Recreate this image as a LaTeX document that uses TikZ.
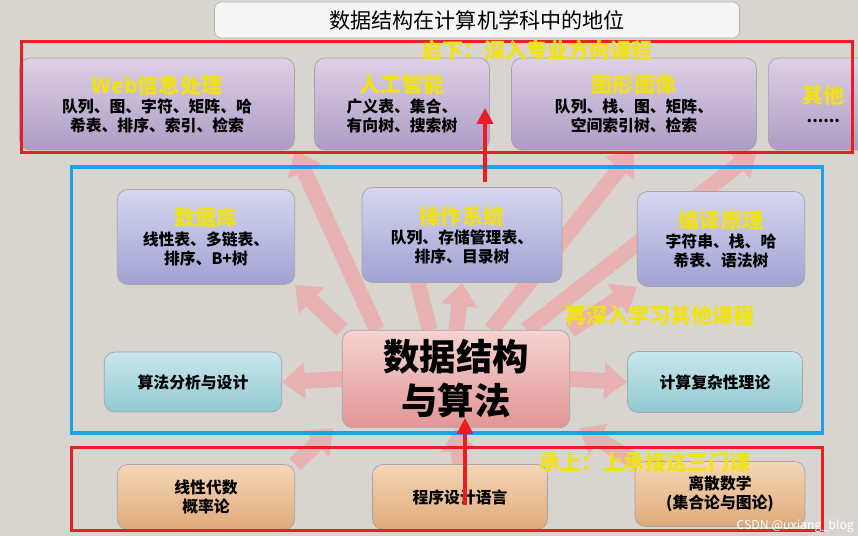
\documentclass[tikz,border=0pt]{standalone}
\usepackage{fontspec}
\setmainfont{Noto Sans CJK SC}
\usetikzlibrary{arrows.meta, positioning, backgrounds}
\definecolor{bgcol}{RGB}{216, 212, 208}
\definecolor{ytitle}{RGB}{240, 226, 20}
\definecolor{frred}{RGB}{232, 30, 36}
\definecolor{frblue}{RGB}{30, 160, 232}
\definecolor{arrowpink}{RGB}{232, 178, 178}
\tikzstyle{topbox} = [rectangle, rounded corners=6pt, draw=gray!70, top color={rgb,255:red,222;green,208;blue,230}, bottom color={rgb,255:red,172;green,156;blue,196}, align=center, font=\small\bfseries, inner sep=2pt]
\tikzstyle{midbox} = [rectangle, rounded corners=6pt, draw=gray!70, top color={rgb,255:red,214;green,214;blue,240}, bottom color={rgb,255:red,160;green,162;blue,210}, align=center, font=\small\bfseries, inner sep=2pt]
\tikzstyle{sidebox} = [rectangle, rounded corners=6pt, draw=gray!70, top color={rgb,255:red,200;green,232;blue,236}, bottom color={rgb,255:red,146;green,200;blue,210}, align=center, font=\small\bfseries]
\tikzstyle{basebox} = [rectangle, rounded corners=6pt, draw=gray!70, top color={rgb,255:red,244;green,214;blue,182}, bottom color={rgb,255:red,224;green,170;blue,122}, align=center, font=\small\bfseries]
\tikzstyle{frame} = [draw, line width=2pt]
\tikzstyle{note} = [text=ytitle, font=\large\bfseries]
\tikzstyle{bigarrow} = [draw=arrowpink, line width=9pt, -{Triangle[width=20pt,length=13pt]}]
\tikzstyle{redarrow} = [draw=frred, line width=2pt, -{Triangle[width=9pt,length=9pt]}]
\newcommand{\ttl}[1]{{\color{ytitle}\large\bfseries #1}\\}

\begin{document}
\begin{tikzpicture}[x=0.02cm, y=-0.02cm]
    \useasboundingbox (0,0) rectangle (858,536);
    \begin{scope}[on background layer]
        \fill[bgcol] (0,0) rectangle (858,536);
    \end{scope}

    % Title
    \node[draw=gray!60, rounded corners=4pt, fill=gray!8, minimum width=10.5cm, minimum height=0.72cm, font=\large] (title) at (477,20) {数据结构在计算机学科中的地位};

    % Top row
    \node[topbox, minimum width=5.5cm, minimum height=1.84cm] (web) at (157,104) {\ttl{Web信息处理}队列、图、字符、矩阵、哈\\希表、排序、索引、检索};
    \node[topbox, minimum width=3.5cm, minimum height=1.84cm] (ai) at (402,104) {\ttl{人工智能}广义表、集合、\\有向树、搜索树};
    \node[topbox, minimum width=4.9cm, minimum height=1.84cm] (img) at (634,104) {\ttl{图形图像}队列、栈、图、矩阵、\\空间索引树、检索};
    \node[topbox, minimum width=2.2cm, minimum height=1.84cm, anchor=west] (other) at (768,104) {\ttl{其他}......};

    % Middle row
    \node[midbox, minimum width=3.55cm, minimum height=1.9cm] (db) at (206,237) {\ttl{数据库}线性表、多链表、\\排序、B+树};
    \node[midbox, minimum width=4cm, minimum height=1.9cm] (os) at (462,235) {\ttl{操作系统}队列、存储管理表、\\排序、目录树};
    \node[midbox, minimum width=3.35cm, minimum height=1.9cm] (comp) at (721,239) {\ttl{编译原理}字符串、栈、哈\\希表、语法树};

    % Centre row
    \node[sidebox, minimum width=3.55cm, minimum height=1.2cm] (algo) at (193,382) {算法分析与设计};
    \node[rectangle, rounded corners=6pt, draw=gray!70, top color={rgb,255:red,246;green,210;blue,210}, bottom color={rgb,255:red,226;green,150;blue,150}, minimum width=4.55cm, minimum height=1.95cm, align=center, font=\huge\bfseries] (ds) at (456,379) {数据结构\\与算法};
    \node[sidebox, minimum width=3.5cm, minimum height=1.22cm] (cplx) at (715,382) {计算复杂性理论};

    % Bottom row
    \node[basebox, minimum width=3.55cm, minimum height=1.3cm] (lin) at (206,497) {线性代数\\概率论};
    \node[basebox, minimum width=3.5cm, minimum height=1.3cm] (prog) at (460,497) {程序设计语言};
    \node[basebox, minimum width=3.4cm, minimum height=1.3cm] (disc) at (720,494) {离散数学\\(集合论与图论)};

    % Frames
    \node[frame, draw=frred, minimum width=16.62cm, minimum height=2.22cm] (fr1) at (437,97) {};
    \node[frame, draw=frblue, minimum width=15.02cm, minimum height=5.32cm] (fr2) at (447,300) {};
    \node[frame, draw=frred, minimum width=15.02cm, minimum height=1.66cm] (fr3) at (447,489) {};

    % Notes
    \node[note] (n1) at (537,50) {启下：深入专业方向课程};
    \node[note] (n2) at (660,315) {再深入学习其他课程};
    \node[note] (n3) at (645,462) {承上：上承接这三门课};
    \node[text=white, font=\scriptsize, anchor=south east, inner sep=1pt] (mark) at (856,535) {CSDN @uxiang\_blog};

    % Block arrows
    \begin{scope}[on background layer]
        \draw[bigarrow] (ds.west) -- (algo.east);
        \draw[bigarrow] (ds.east) -- (cplx.west);
        \draw[bigarrow] (ds.north west) -- (db.south east);
        \draw[bigarrow] (ds.north) -- (os.south);
        \draw[bigarrow] (ds.north east) -- (comp.south west);
        \draw[bigarrow] ([xshift=-45pt]ds.north) -- (web.south east);
        \draw[bigarrow] ([xshift=-15pt]ds.north) -- ([yshift=-40pt]ai.south);
        \draw[bigarrow] ([xshift=20pt]ds.north) -- (img.south);
        \draw[bigarrow] ([xshift=40pt]ds.north) -- (img.south east);
        \draw[bigarrow] (lin.north east) -- ([xshift=-5pt]ds.south west);
        \draw[bigarrow] (prog.north) -- (ds.south);
        \draw[bigarrow] (disc.north west) -- ([xshift=5pt]ds.south east);
    \end{scope}

    % Red arrows
    \coordinate (upa) at (465,505);
    \coordinate (upb) at (465,418);
    \coordinate (upc) at (485,182);
    \coordinate (upd) at (485,108);
    \draw[redarrow] (upa) -- (upb);
    \draw[redarrow] (upc) -- (upd);
\end{tikzpicture}
\end{document}
